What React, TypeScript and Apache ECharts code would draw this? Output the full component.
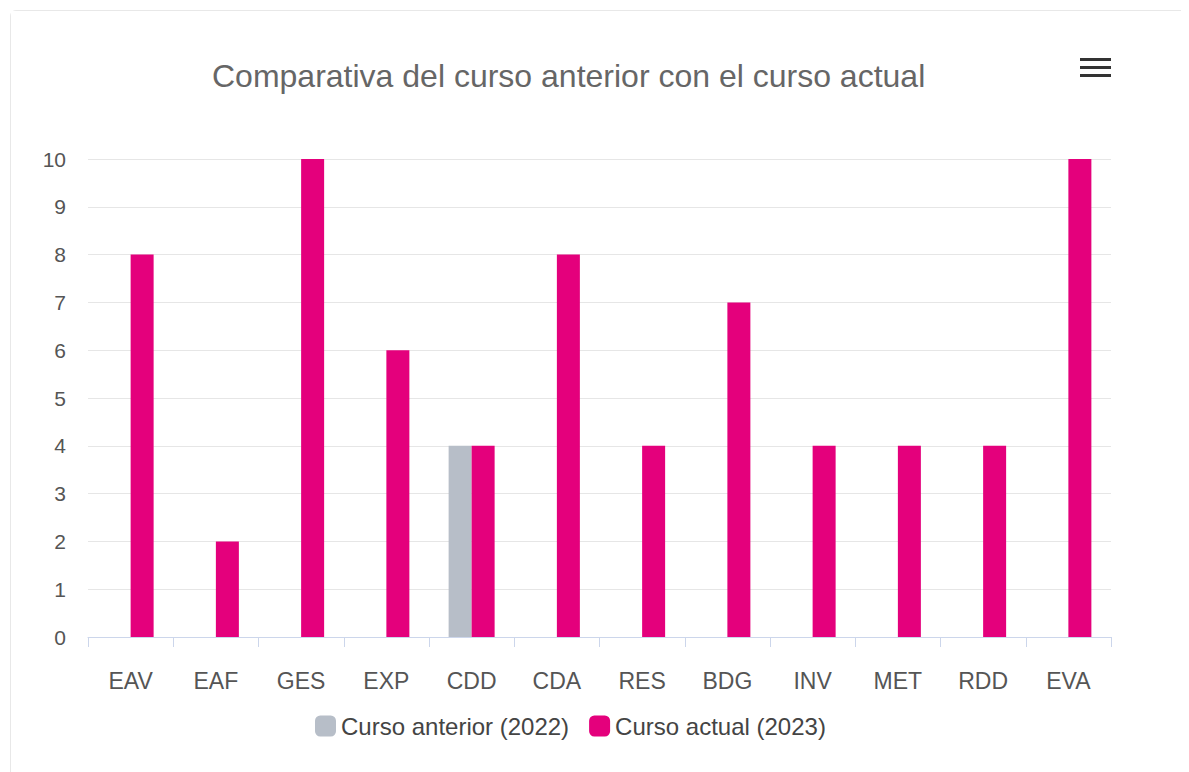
import React, { useEffect, useRef } from "react";
import * as echarts from "echarts";

const categories = ["EAV", "EAF", "GES", "EXP", "CDD", "CDA", "RES", "BDG", "INV", "MET", "RDD", "EVA"];
const previousValues = [0, 0, 0, 0, 4, 0, 0, 0, 0, 0, 0, 0];
const currentValues = [8, 2, 10, 6, 4, 8, 4, 7, 4, 4, 4, 10];
const seriesNames = ["Curso anterior (2022)", "Curso actual (2023)"];
const titleText = "Comparativa del curso anterior con el curso actual";

const FONT = "'Liberation Sans', Arial, sans-serif";

export default function App() {
  const ref = useRef<HTMLDivElement>(null);
  useEffect(() => {
    if (!ref.current) return;
    const chart = echarts.init(ref.current, null, { renderer: "svg" });
    chart.setOption({
      animation: false,
      backgroundColor: "#ffffff",
      title: {
        text: titleText,
        left: 196,
        top: 44,
        textStyle: { fontFamily: FONT, fontSize: 32, fontWeight: "normal", color: "#666666" },
      },
      legend: {
        top: 698,
        left: 299,
        itemWidth: 21,
        itemHeight: 21,
        itemGap: 20,
        icon: "roundRect",
        textStyle: { fontFamily: FONT, fontSize: 24, color: "#444444" },
        data: seriesNames,
      },
      grid: { left: 77, right: 77, top: 148, bottom: 135, containLabel: false },
      xAxis: {
        type: "category",
        data: categories,
        axisLine: { lineStyle: { color: "#ccd6eb", width: 1 } },
        axisTick: { show: true, length: 10, lineStyle: { color: "#ccd6eb" } },
        axisLabel: { fontFamily: FONT, fontSize: 23, color: "#555555", margin: 32 },
      },
      yAxis: {
        type: "value",
        min: 0,
        max: 10,
        interval: 1,
        axisLine: { show: false },
        axisTick: { show: false },
        axisLabel: { fontFamily: FONT, fontSize: 21, color: "#555555", margin: 22 },
        splitLine: { lineStyle: { color: "#e6e6e6", width: 1 } },
      },
      graphic: [
        {
          type: "group",
          right: 77,
          top: 47,
          children: [
            { type: "rect", shape: { x: 0, y: 0, width: 31, height: 3 }, style: { fill: "#333333" } },
            { type: "rect", shape: { x: 0, y: 8, width: 31, height: 3 }, style: { fill: "#333333" } },
            { type: "rect", shape: { x: 0, y: 16, width: 31, height: 3 }, style: { fill: "#333333" } },
          ],
        },
      ],
      series: [
        {
          name: seriesNames[0],
          type: "bar",
          data: previousValues,
          barWidth: 23,
          barGap: "0%",
          itemStyle: { color: "#b7bec8" },
        },
        {
          name: seriesNames[1],
          type: "bar",
          data: currentValues,
          barWidth: 23,
          barGap: "0%",
          itemStyle: { color: "#e4007c" },
        },
      ],
    });
    return () => chart.dispose();
  }, []);

  return (
    <div
      style={{
        marginTop: 2,
        marginLeft: 2,
        width: 1177,
        height: 770,
        border: "1px solid #e8e8e8",
        borderRadius: 6,
        boxSizing: "content-box",
        background: "#fff",
      }}
    >
      <div ref={ref} style={{ width: 1177, height: 761 }} />
    </div>
  );
}
